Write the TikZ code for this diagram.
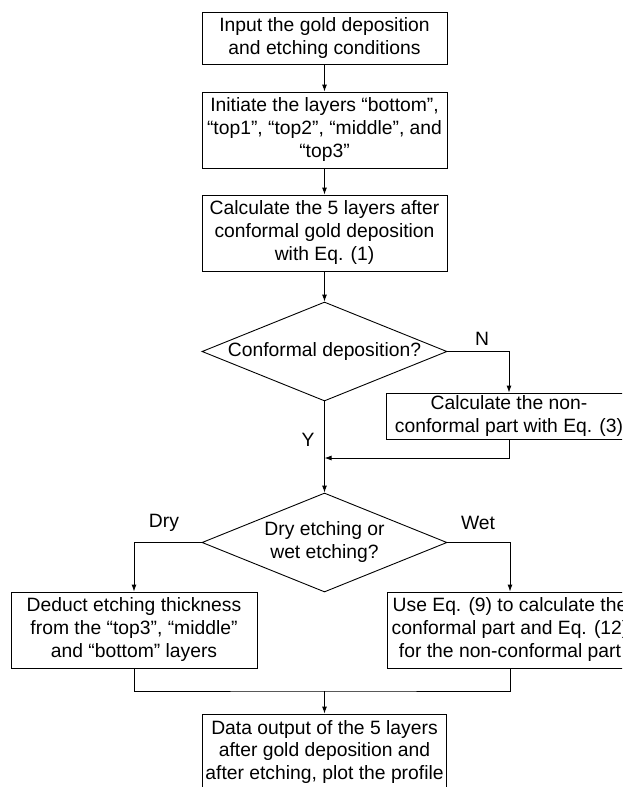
\documentclass[tikz,border=0pt]{standalone}
\usepackage{fontspec}
\setmainfont{Liberation Sans}
\usetikzlibrary{shapes.geometric,arrows.meta}
\begin{document}
\begin{tikzpicture}[x=1pt,y=-1pt,
  every node/.style={font=\fontsize{19.3}{23}\selectfont, text=black},
  box/.style={draw, line width=0.9pt, rectangle, align=center, inner sep=0pt, minimum width=245pt},
  dec/.style={draw, line width=0.9pt, diamond, aspect=2.47, align=center, inner sep=0pt, minimum width=245pt, minimum height=99pt},
  conn/.style={line width=0.9pt},
  arr/.style={conn, -{Latex[length=7pt,width=5pt]}},
  lbl/.style={inner sep=0pt}
]
\useasboundingbox (0,0) rectangle (622,787);
\clip (0,0) rectangle (622,787);

\node[box, minimum height=52pt] (b1) at (324.5,38) {Input the gold deposition\\and etching conditions};
\node[box, minimum height=76pt] (b2) at (324.5,130) {Initiate the layers “bottom”,\\“top1”, “top2”, “middle”, and\\“top3”};
\node[box, minimum height=76pt] (b3) at (324.5,233) {Calculate the 5 layers after\\conformal gold deposition\\with Eq. (1)};
\node[dec] (d1) at (324.5,351.5) {Conformal deposition?};
\node[box, minimum width=246pt, minimum height=46pt] (b4) at (509,416) {Calculate the non-\\conformal part with Eq. (3)};
\coordinate (j1) at (324.5,458);
\node[dec] (d2) at (324.5,542.5) {Dry etching or\\wet etching?};
\node[box, minimum width=246pt, minimum height=76pt] (b5) at (134,630) {Deduct etching thickness\\from the “top3”, “middle”\\and “bottom” layers};
\node[box, minimum width=246pt, minimum height=76pt] (b6) at (510,630) {Use Eq. (9) to calculate the\\conformal part and Eq. (12)\\for the non-conformal part};
\coordinate (m) at (324.5,691);
\node[box, minimum width=244pt, minimum height=76pt] (b7) at (324.5,752) {Data output of the 5 layers\\after gold deposition and\\after etching, plot the profile};

\node[lbl] (lN) at (482,339) {N};
\node[lbl] (lY) at (308,440) {Y};
\node[lbl] (lDry) at (164,523) {Dry};
\node[lbl] (lWet) at (478,523) {Wet};

\draw[arr] (b1.south) -- (b2.north);
\draw[arr] (b2.south) -- (b3.north);
\draw[arr] (b3.south) -- (d1.north);
\draw[arr] (d1.east) -| (b4.north);
\draw[arr] (d1.south) -- (d2.north);
\draw[arr] (b4.south) |- (j1);
\draw[arr] (d2.west) -| (b5.north);
\draw[arr] (d2.east) -| (b6.north);
\draw[conn] (b5.south) |- (m) -| (b6.south);
\draw[arr] (m) -- (b7.north);
\end{tikzpicture}
\end{document}
